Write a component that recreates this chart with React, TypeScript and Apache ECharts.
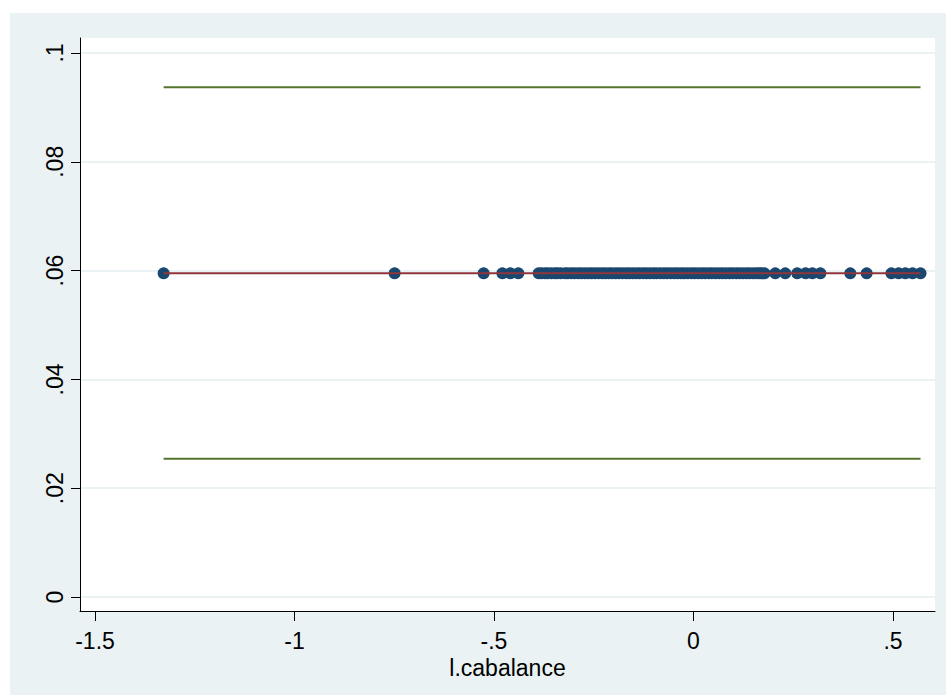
import React, { useEffect, useRef } from "react";
import * as echarts from "echarts";

const xPoints: number[] = [
  -1.328, -0.749, -0.526, -0.479, -0.459, -0.439,
  -0.388, -0.381, -0.372, -0.365, -0.356, -0.347, -0.341, -0.333, -0.322, -0.315,
  -0.306, -0.298, -0.289, -0.281, -0.272, -0.263, -0.255, -0.247, -0.238, -0.229,
  -0.221, -0.212, -0.204, -0.195, -0.187, -0.178, -0.169, -0.161, -0.152, -0.143,
  -0.135, -0.126, -0.118, -0.109, -0.1, -0.092, -0.083, -0.074, -0.066, -0.057,
  -0.048, -0.04, -0.031, -0.023, -0.014, -0.005, 0.003, 0.012, 0.021, 0.029,
  0.038, 0.046, 0.055, 0.064, 0.072, 0.081, 0.09, 0.098, 0.107, 0.115, 0.124,
  0.133, 0.141, 0.15, 0.158, 0.165, 0.17, 0.178,
  0.205, 0.23, 0.26, 0.281, 0.298, 0.318, 0.393, 0.434, 0.496, 0.514, 0.531, 0.549, 0.569,
];
const fittedValue = 0.0595;
const ciUpper = 0.0937;
const ciLower = 0.0254;
const xTicks: number[] = [-1.5, -1, -0.5, 0, 0.5];
const yTicks: number[] = [0, 0.02, 0.04, 0.06, 0.08, 0.1];

const NAVY = "#1A476F";
const MAROON = "#90353B";
const GREEN = "#55752F";
const BG = "#EAF2F3";
const FONT = "Liberation Sans, Arial, sans-serif";

const fmt = (v: number) => {
  const s = String(Math.round(v * 1000) / 1000);
  return s.replace(/^0\./, ".").replace(/^-0\./, "-.");
};

export default function App() {
  const ref = useRef<HTMLDivElement>(null);
  useEffect(() => {
    if (!ref.current) return;
    const chart = echarts.init(ref.current, null, { renderer: "svg" });
    const xs = [...xPoints].sort((a, b) => a - b);
    const xMin = xs[0];
    const xMax = xs[xs.length - 1];
    chart.setOption({
      animation: false,
      backgroundColor: "#ffffff",
      graphic: [
        {
          type: "rect",
          left: 10,
          top: 13,
          shape: { width: 936, height: 682 },
          style: { fill: BG },
          z: -10,
          silent: true,
        },
      ],
      grid: {
        left: 80,
        right: 11,
        top: 38,
        bottom: 84,
        show: true,
        backgroundColor: "#ffffff",
        borderWidth: 0,
        z: 0,
      },
      xAxis: {
        type: "value",
        min: -1.5376,
        max: 0.6053,
        name: "l.cabalance",
        nameLocation: "middle",
        nameGap: 38,
        nameTextStyle: { fontFamily: FONT, fontSize: 23, color: "#000" },
        axisLine: { show: true, onZero: false, lineStyle: { color: "#000", width: 1 } },
        axisTick: { show: true, length: 10, customValues: xTicks, lineStyle: { color: "#000" } },
        axisLabel: {
          customValues: xTicks,
          formatter: (v: number) => fmt(v),
          fontFamily: FONT,
          fontSize: 23,
          color: "#000",
          margin: 18,
        },
        splitLine: { show: false },
      },
      yAxis: {
        type: "value",
        min: -0.00257,
        max: 0.10276,
        axisLine: { show: true, onZero: false, lineStyle: { color: "#000", width: 1 } },
        axisTick: { show: true, length: 9, customValues: yTicks, lineStyle: { color: "#000" } },
        axisLabel: {
          customValues: yTicks,
          formatter: (v: number) => fmt(v),
          rotate: 90,
          fontFamily: FONT,
          fontSize: 23,
          color: "#000",
          margin: 14,
        },
        splitLine: { show: true, lineStyle: { color: BG, width: 2 } },
      },
      series: [
        {
          type: "line",
          data: [[xMin, ciUpper], [xMax, ciUpper]],
          symbol: "none",
          lineStyle: { color: GREEN, width: 2 },
          z: 3,
        },
        {
          type: "line",
          data: [[xMin, ciLower], [xMax, ciLower]],
          symbol: "none",
          lineStyle: { color: GREEN, width: 2 },
          z: 3,
        },
        {
          type: "scatter",
          data: xPoints.map((x) => [x, fittedValue]),
          symbol: "circle",
          symbolSize: 12,
          itemStyle: { color: NAVY, opacity: 1 },
          z: 4,
        },
        {
          type: "line",
          data: [[xMin, fittedValue], [xMax, fittedValue]],
          symbol: "none",
          lineStyle: { color: MAROON, width: 2 },
          z: 5,
        },
      ],
    });
    return () => chart.dispose();
  }, []);
  return (
    <div
      ref={ref}
      style={{ position: "absolute", left: 0, top: 0, width: 946, height: 695 }}
    />
  );
}
